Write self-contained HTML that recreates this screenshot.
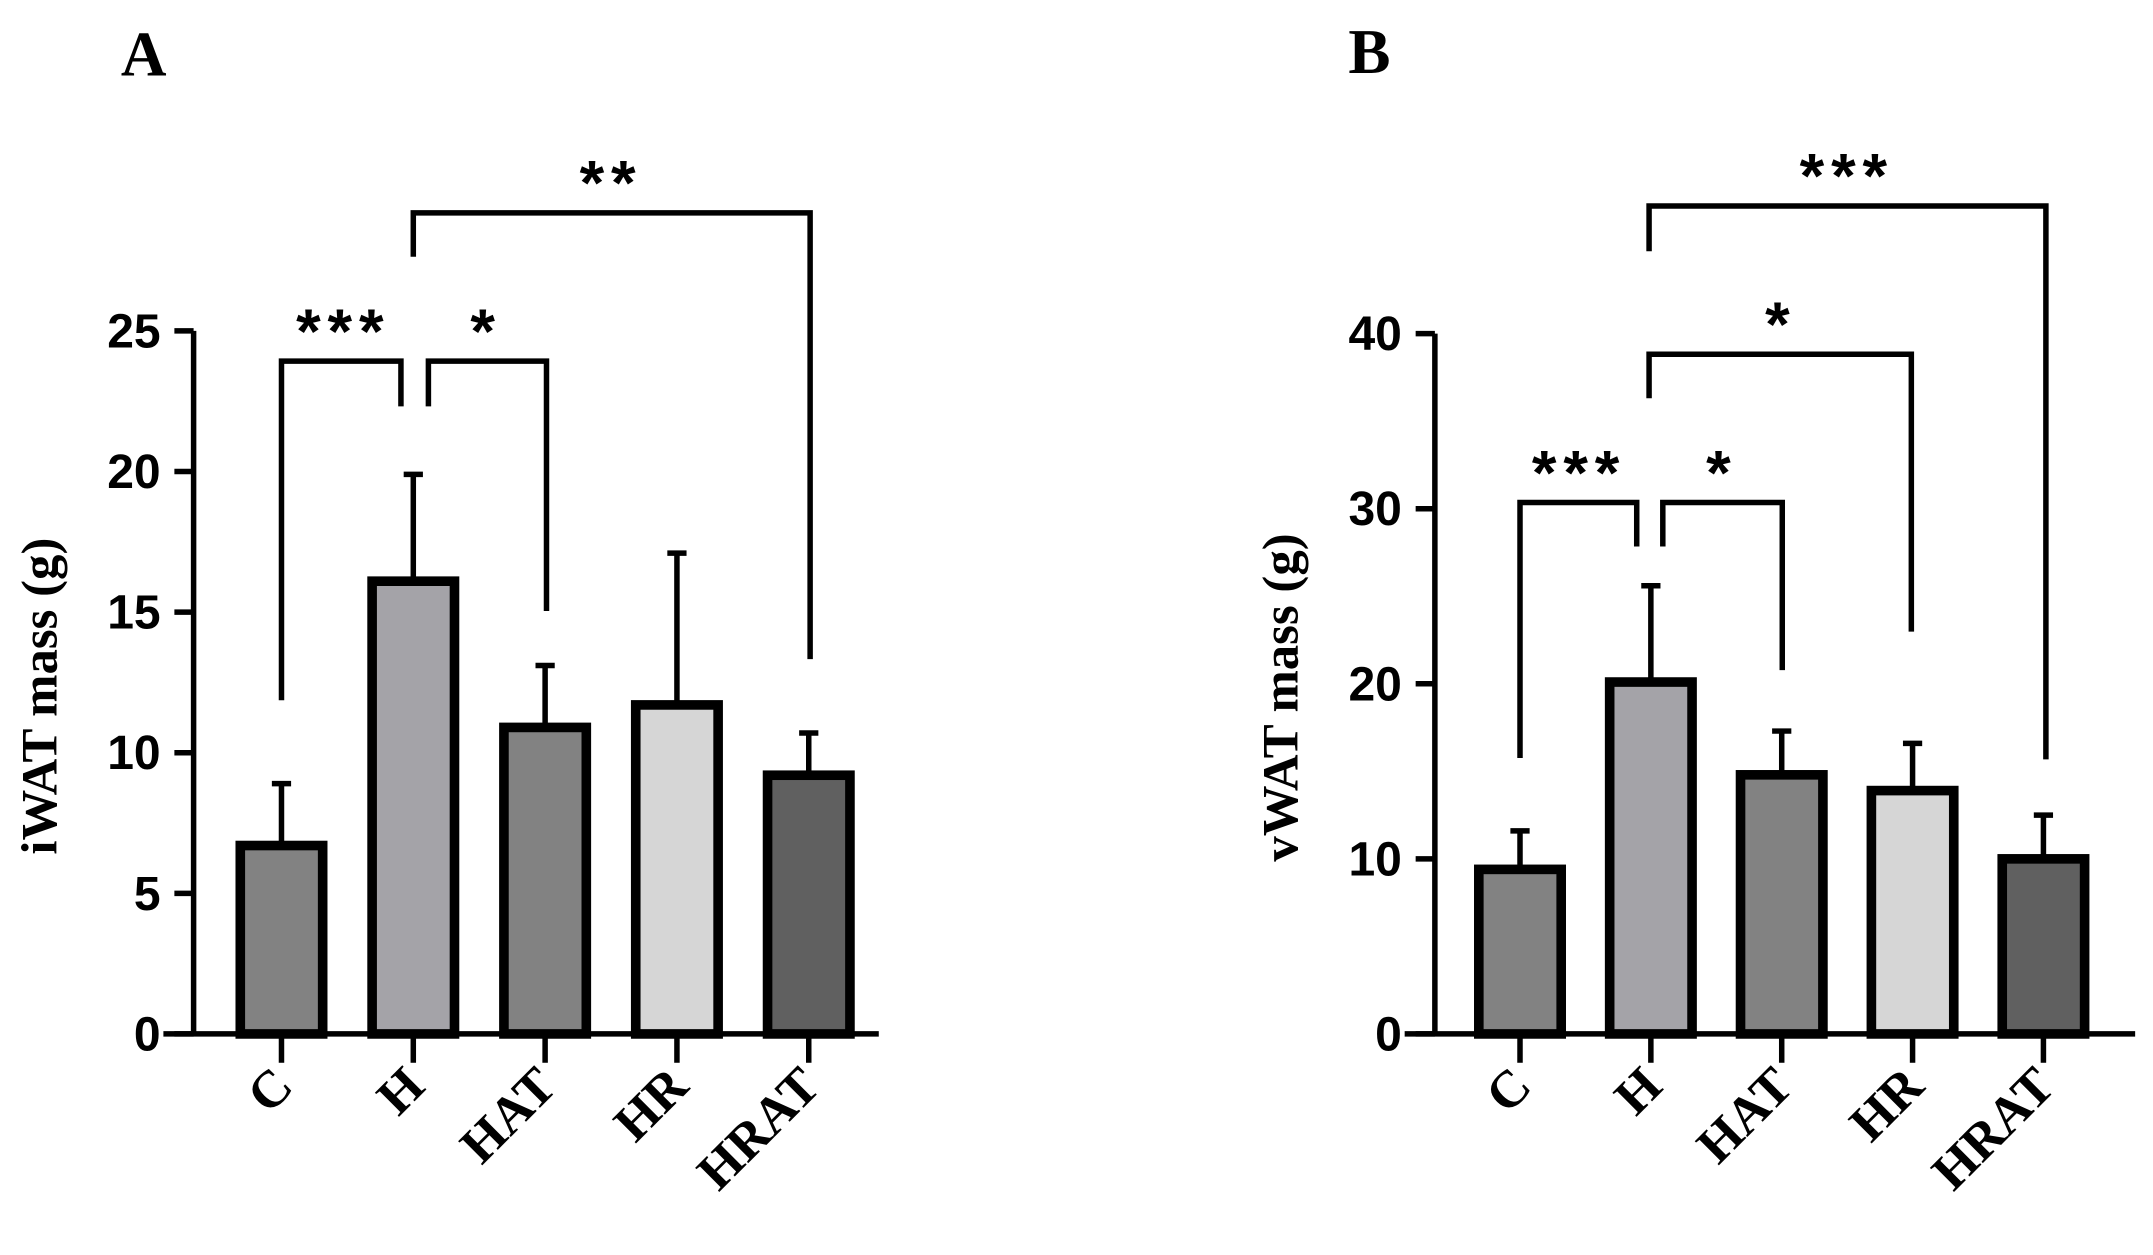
<!DOCTYPE html>
<html><head><meta charset="utf-8"><style>
html,body{margin:0;padding:0;background:#fff}
svg{display:block}
</style></head><body>
<svg id="chart" width="2153" height="1255" viewBox="0 0 1568 914" preserveAspectRatio="none" xmlns="http://www.w3.org/2000/svg">
<text x="88" y="55" font-family="Liberation Serif, serif" font-weight="bold" font-size="46">A</text>
<text x="982" y="53" font-family="Liberation Serif, serif" font-weight="bold" font-size="46">B</text>
<g id="pa"></g>
<g id="pb"></g>
</svg>
<script>
const categories = ["C","H","HAT","HR","HRAT"];
const colors = ["#828282","#a4a3a8","#828282","#d6d6d6","#606060"];
const iwatMeans = [6.7,16.1,10.9,11.7,9.2];
const iwatErr = [8.9,19.9,13.1,17.1,10.7];
const iwatTicks = [0,5,10,15,20,25];
const vwatMeans = [9.4,20.1,14.8,13.9,10.0];
const vwatErr = [11.6,25.6,17.3,16.6,12.5];
const vwatTicks = [0,10,20,30,40];
const NS="http://www.w3.org/2000/svg";
function mk(parent,tag,attrs){const e=document.createElementNS(NS,tag);for(const k in attrs)e.setAttribute(k,attrs[k]);parent.appendChild(e);return e;}
function draw(g,cfg){
  const y=v=>cfg.y0-(v/cfg.ymax)*(cfg.y0-cfg.ytop);
  const x=i=>cfg.x0+i*cfg.step;
  const ax=mk(g,'path',{d:`M${cfg.ax} ${cfg.ytop} V${cfg.y0} M${cfg.ax-22} ${cfg.y0} H${cfg.xend}`,stroke:'#000','stroke-width':4,fill:'none'});
  
  
  cfg.ticks.forEach(t=>{
    const tk=mk(g,'line',{x1:cfg.ax-14,x2:cfg.ax,y1:y(t),y2:y(t),stroke:'#000','stroke-width':4});
    
    
    const tl=mk(g,'text',{x:cfg.ax-24,y:y(t)+12,'text-anchor':'end','font-family':'Liberation Sans, sans-serif','font-weight':'bold','font-size':35});
    tl.textContent=t;
    
    
  });
  const yt=mk(g,'text',{transform:`translate(${cfg.ax-100},${(cfg.y0+cfg.ytop)/2+10}) rotate(-90)`,'text-anchor':'middle','font-family':'Liberation Serif, serif','font-weight':'bold','font-size':37});
  yt.textContent=cfg.title;
  
  
  categories.forEach((c,i)=>{
    const cx=x(i);
    const eb=mk(g,'path',{d:`M${cx} ${y(cfg.means[i])} V${y(cfg.err[i])} M${cx-7} ${y(cfg.err[i])} H${cx+7}`,stroke:'#000','stroke-width':4,fill:'none'});
    
    
    const b=mk(g,'rect',{x:cx-30,y:y(cfg.means[i]),width:60,height:cfg.y0-y(cfg.means[i]),fill:colors[i],stroke:'#000','stroke-width':7});
    
    
    const tk=mk(g,'line',{x1:cx,x2:cx,y1:cfg.y0,y2:cfg.y0+21,stroke:'#000','stroke-width':4});
    
    
    const tl=mk(g,'text',{transform:`translate(${cx+10},${cfg.y0+40}) rotate(-45)`,'text-anchor':'end','font-family':'Liberation Serif, serif','font-weight':'bold','font-size':38});
    tl.textContent=c;
    
    
  });
  cfg.brackets.forEach(br=>{
    const p=mk(g,'path',{d:`M${br[0]} ${br[3]} V${br[2]} H${br[1]} V${br[4]}`,stroke:'#000','stroke-width':4,fill:'none'});
    
    
    const s=mk(g,'text',{x:br[6],y:br[2]-6,'text-anchor':'middle','font-family':'Liberation Sans, sans-serif','font-weight':'bold','font-size':46,'letter-spacing':5});
    s.textContent=br[5];
    
    
  });
}
draw(document.getElementById('pa'),{ax:141,x0:205,step:96,y0:753,ytop:241,ymax:25,xend:640,ticks:iwatTicks,means:iwatMeans,err:iwatErr,title:'iWAT mass (g)',
  brackets:[[205,292,263,510,296,'***',250],[312,398,263,296,445,'*',354],[301,590,155,187,480,'**',445]]});
draw(document.getElementById('pb'),{ax:1045,x0:1107,step:95.3,y0:753,ytop:243,ymax:40,xend:1555,ticks:vwatTicks,means:vwatMeans,err:vwatErr,title:'vWAT mass (g)',
  brackets:[[1107,1192,366,552,398,'***',1150],[1211,1298,366,398,488,'*',1254],[1201,1392,258,290,460,'*',1297],[1201,1490,150,183,553,'***',1345]]});
</script>
</body></html>
